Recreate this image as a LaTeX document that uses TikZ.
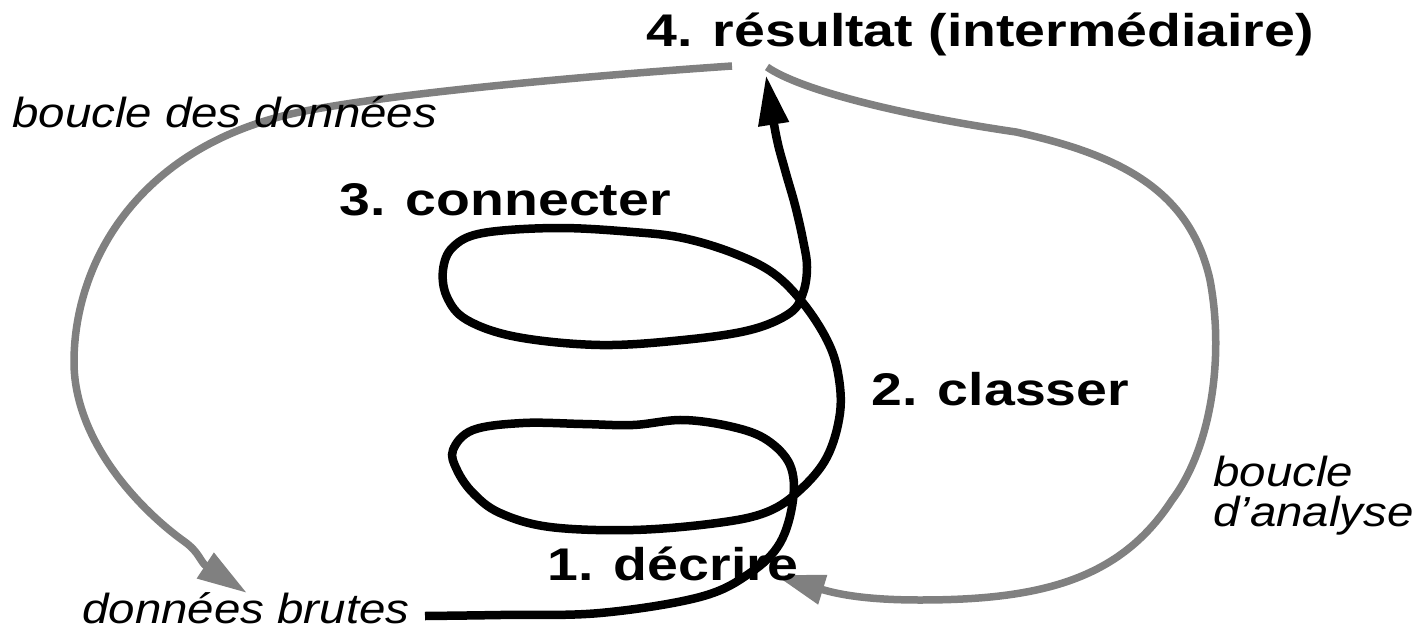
\documentclass[tikz,border=0pt]{standalone}
\usepackage{fontspec}
\setsansfont{Liberation Sans}
\usetikzlibrary{arrows.meta}
\newcommand*{\largeur}{1418}
\newcommand*{\hauteur}{634}
\newcommand*{\etirG }{1.21}
\newcommand*{\etirM }{1.13}
\makeatletter
\newcommand\GROS{\@setfontsize\GROS{45.8}{54}}
\newcommand\MOYEN{\@setfontsize\MOYEN{42}{46}}
\makeatother

\begin{document}
\begin{tikzpicture}[x=1pt, y=-1pt, font=\sffamily,
        etape/.style={anchor=base west, inner sep=0pt, xscale=\etirG, font=\sffamily\bfseries\GROS},
        legende/.style={anchor=base west, inner sep=0pt, xscale=\etirM, font=\sffamily\itshape\MOYEN},
        spirale/.style={line width=8.5pt, -{Triangle[length=50pt, width=29pt]}},
        boucle/.style={line width=7.5pt, draw=gray, -{Triangle[length=50pt, width=29pt]}}]
    \useasboundingbox (0,0) rectangle (\largeur,\hauteur);
        \coordinate (departS) at (425,616);
        \coordinate (finS)    at (766,75);
        \coordinate (departG) at (732,66);
        \coordinate (finG)    at (247,593);
        \coordinate (departD) at (767,67);
        \coordinate (finD)    at (775,575);
        % boucle des donnees
        \draw [boucle] (departG) .. controls (600,75) and (400,92) .. (300,112)
                                 .. controls (140,145) and (75,260) .. (74,360)
                                 .. controls (73,440) and (140,510) .. (185,542)
                                 .. controls (200,553) and (200,562) .. (finG);
        % boucle d'analyse
        \draw [boucle] (departD) .. controls (800,90) and (900,115) .. (1016,132)
                                 .. controls (1120,155) and (1190,190) .. (1210,280)
                                 .. controls (1225,360) and (1210,450) .. (1172,500)
                                 .. controls (1120,580) and (1040,600) .. (920,600)
                                 .. controls (870,600) and (840,595) .. (finD);
        % spirale
        \draw [spirale] plot [smooth, tension=0.6] coordinates {(departS) (500,615) (600,613) (700,597) (750,573) (780,543) (793,500) (790,465) (767,440) (733,427) (683,420) (633,425) (583,424) (523,423) (473,430) (453,450) (457,470) (473,493) (500,513) (550,527) (633,530) (717,523) (767,512) (800,490) (827,457) (840,413) (838,373) (827,340) (803,303) (773,273) (733,253) (683,238) (633,232) (557,228) (483,233) (453,247) (443,270) (447,297) (467,320) (517,337) (600,345) (683,340) (750,330) (790,313) (803,293) (807,267) (803,240) (795,205) (785,170) (776,135) (finS)};
        \node [etape] (resultat)  at (646,47)  {4. résultat (intermédiaire)};
        \node [etape] (connecter) at (339,215) {3. connecter};
        \node [etape] (classer)   at (871,405) {2. classer};
        \node [etape] (decrire)   at (547,580) {1. décrire};
        \node [legende] (donnees)  at (12,127)  {boucle des données};
        \node [legende] (brutes)   at (82,623)  {données brutes};
        \node [legende] (analyseA) at (1213,486) {boucle};
        \node [legende] (analyseB) at (1213,526) {d’analyse};
    \end{tikzpicture}
\end{document}
